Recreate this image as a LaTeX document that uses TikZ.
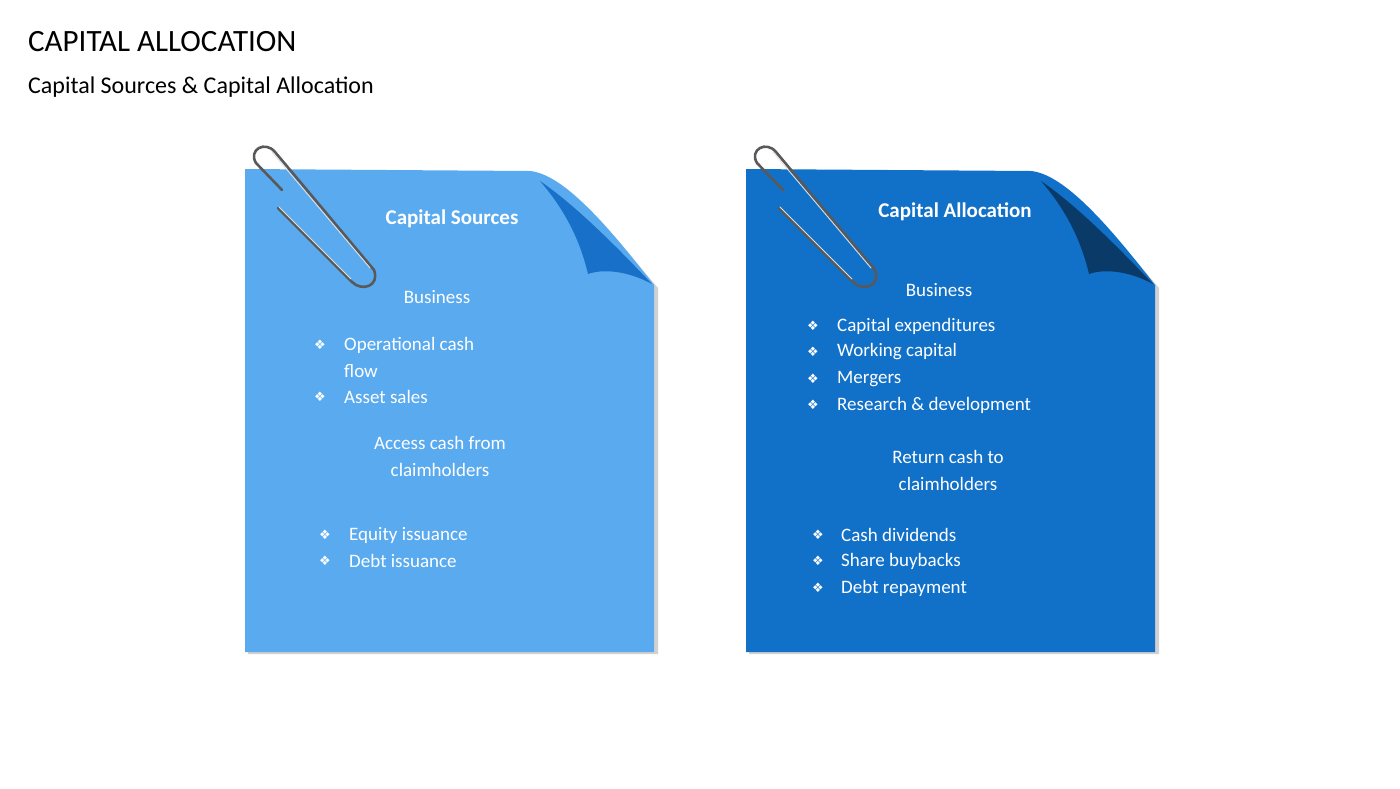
\documentclass[tikz,border=0pt]{standalone}
\usepackage{fontspec}
\setmainfont{Carlito}
\newfontfamily\dejavu{DejaVu Sans}
\definecolor{lightc}{RGB}{90,170,240}
\definecolor{lightcurl}{RGB}{24,112,200}
\definecolor{darkc}{RGB}{17,112,200}
\definecolor{darkcurl}{RGB}{10,58,104}
\begin{document}
\begin{tikzpicture}[x=1pt,y=-1pt,
  txt/.style={text=white,font=\fontsize{19}{22}\selectfont,inner sep=0},
  hdr/.style={text=white,font=\fontsize{21}{24}\selectfont\bfseries,inner sep=0},
  bul/.style={text=white,font=\dejavu\fontsize{13}{15}\selectfont,inner sep=0},
  itm/.style={txt,anchor=west},
  clip/.style={draw=gray!70!black,line width=2.6pt,line cap=round,line join=round},
  cliphl/.style={draw=gray!25,line width=0.9pt,line cap=round}]
\useasboundingbox (0,0) rectangle (1400,788);
\node[anchor=west,inner sep=0,font=\fontsize{31}{36}\selectfont] (title) at (28,42) {CAPITAL ALLOCATION};
\node[anchor=west,inner sep=0,font=\fontsize{24}{28}\selectfont] (sub) at (28,87) {Capital Sources \& Capital Allocation};
\foreach \ox/\body/\curl/\nm in {0/lightc/lightcurl/L,501/darkc/darkcurl/R}{
 \begin{scope}[xshift=\ox]
  \fill[black!18] (248,173) -- (532,175) .. controls (560,178) and (600,220) .. (658,288) -- (658,654) -- (248,654) -- cycle;
  \fill[\body] (245,169) -- (530,171) .. controls (560,174) and (600,215) .. (654,285) -- (654,652) -- (245,652) -- cycle;
  \fill[\curl] (540,181) .. controls (575,205) and (615,245) .. (652,284) .. controls (630,272) and (605,268) .. (588,274) .. controls (580,240) and (565,210) .. (540,181) -- cycle;
  \draw[clip] (278,208) -- (352,282) .. controls (362,292) and (380,286) .. (374,270) -- (275,152) .. controls (265,140) and (248,150) .. (256,163) -- (282,190);
  \draw[cliphl] (279,207) -- (351,279);
  \draw[cliphl] (272,152) -- (370,268);
 \end{scope}}
% left card
\node[hdr] (h1) at (452,219) {Capital Sources};
\node[txt] (b1) at (437,297) {Business};
\foreach \y/\t in {345/Operational cash,397/Asset sales}{\node[bul] at (320,\y) {❖};\node[itm] at (344,\y) {\t};}
\node[itm] (fl) at (344,371) {flow};
\node[txt] (a1) at (440,443) {Access cash from};
\node[txt] (a2) at (440,470) {claimholders};
\foreach \y/\t in {535/Equity issuance,561/Debt issuance}{\node[bul] at (325,\y) {❖};\node[itm] at (349,\y) {\t};}
% right card
\node[hdr] (h2) at (955,212) {Capital Allocation};
\node[txt] (b2) at (939,290) {Business};
\foreach \y/\t in {326/Capital expenditures,352/Working capital,379/Mergers/ acquisitions,405/Research \& development}{\node[bul] at (813,\y) {❖};\node[itm] at (837,\y) {\t};}
\node[txt] (r1) at (948,457) {Return cash to};
\node[txt] (r2) at (948,484) {claimholders};
\foreach \y/\t in {535/Cash dividends,561/Share buybacks,588/Debt repayment}{\node[bul] at (818,\y) {❖};\node[itm] at (841,\y) {\t};}
\end{tikzpicture}
\end{document}
